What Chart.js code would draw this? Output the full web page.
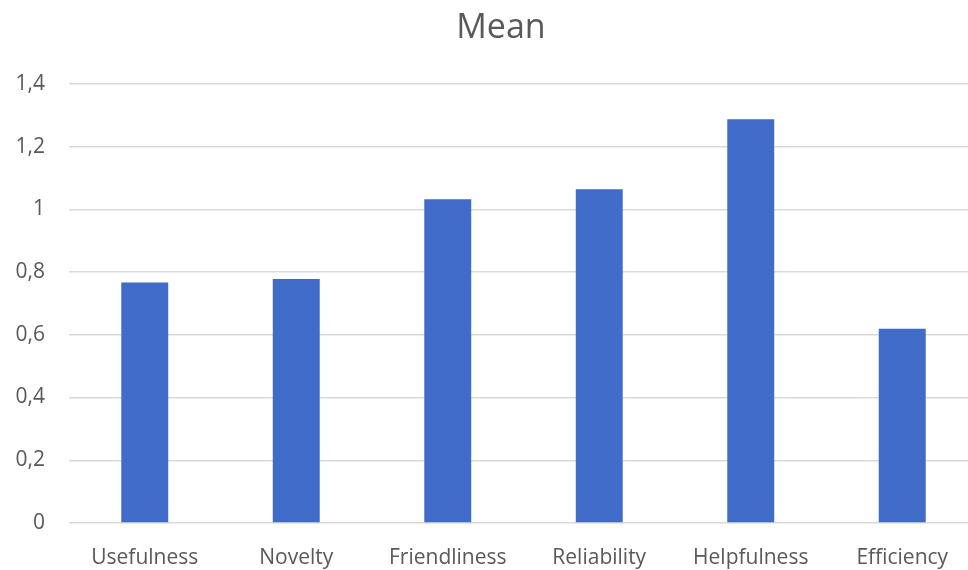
<!DOCTYPE html>
<html>
<head>
<meta charset="utf-8">
<title>Mean</title>
<script src="https://cdn.jsdelivr.net/npm/chart.js@4/dist/chart.umd.min.js"></script>
<style>
  html, body { margin: 0; padding: 0; background: #ffffff; overflow: hidden; }
  #wrap { position: relative; width: 1002px; height: 570px; }
</style>
</head>
<body>
<div id="wrap"><canvas id="chart" width="1002" height="570"></canvas></div>
<script>
// Categories and mean scores
const categories = ['Usefulness', 'Novelty', 'Friendliness', 'Reliability', 'Helpfulness', 'Efficiency'];
const meanValues = [0.767, 0.778, 1.032, 1.064, 1.287, 0.619];
const yTickValues = [0, 0.2, 0.4, 0.6, 0.8, 1, 1.2, 1.4];

const textColor = '#595959';
const fontFamily = '"Open Sans", "Liberation Sans", sans-serif';

// Decimal comma for axis labels
function formatTick(v) {
  return String(Math.round(v * 10) / 10).replace('.', ',');
}

new Chart(document.getElementById('chart'), {
  type: 'bar',
  data: {
    labels: categories,
    datasets: [{
      label: 'Mean',
      data: meanValues,
      backgroundColor: '#416BC9',
      borderWidth: 0,
      categoryPercentage: 1,
      barPercentage: 0.31
    }]
  },
  options: {
    responsive: false,
    animation: false,
    devicePixelRatio: 1,
    layout: { padding: 0 },
    plugins: {
      legend: { display: false },
      tooltip: { enabled: false },
      title: {
        display: true,
        text: 'Mean',
        color: textColor,
        font: { family: fontFamily, size: 34, weight: 'normal' },
        padding: { top: 8, bottom: 35 }
      }
    },
    scales: {
      x: {
        grid: { display: false, drawTicks: false },
        border: { display: false },
        ticks: {
          color: textColor,
          font: { family: fontFamily, size: 21 },
          padding: 22,
          maxRotation: 0
        },
        afterFit(scale) { scale.height = 47; }
      },
      y: {
        min: 0,
        max: 1.4,
        afterBuildTicks(scale) {
          scale.ticks = yTickValues.map(v => ({ value: v }));
        },
        grid: { color: '#d9d9d9', lineWidth: 1.5, drawTicks: false },
        border: { display: false },
        ticks: {
          color: textColor,
          font: { family: fontFamily, size: 21 },
          padding: 24,
          callback: (v) => formatTick(v)
        },
        afterFit(scale) { scale.width = 69; }
      },
      // empty right-hand margin so the plot area ends where the title expects
      yRight: {
        position: 'right',
        min: 0,
        max: 1.4,
        grid: { display: false, drawTicks: false },
        border: { display: false },
        ticks: { display: false },
        afterFit(scale) { scale.width = 24; }
      }
    }
  }
});
</script>
</body>
</html>
